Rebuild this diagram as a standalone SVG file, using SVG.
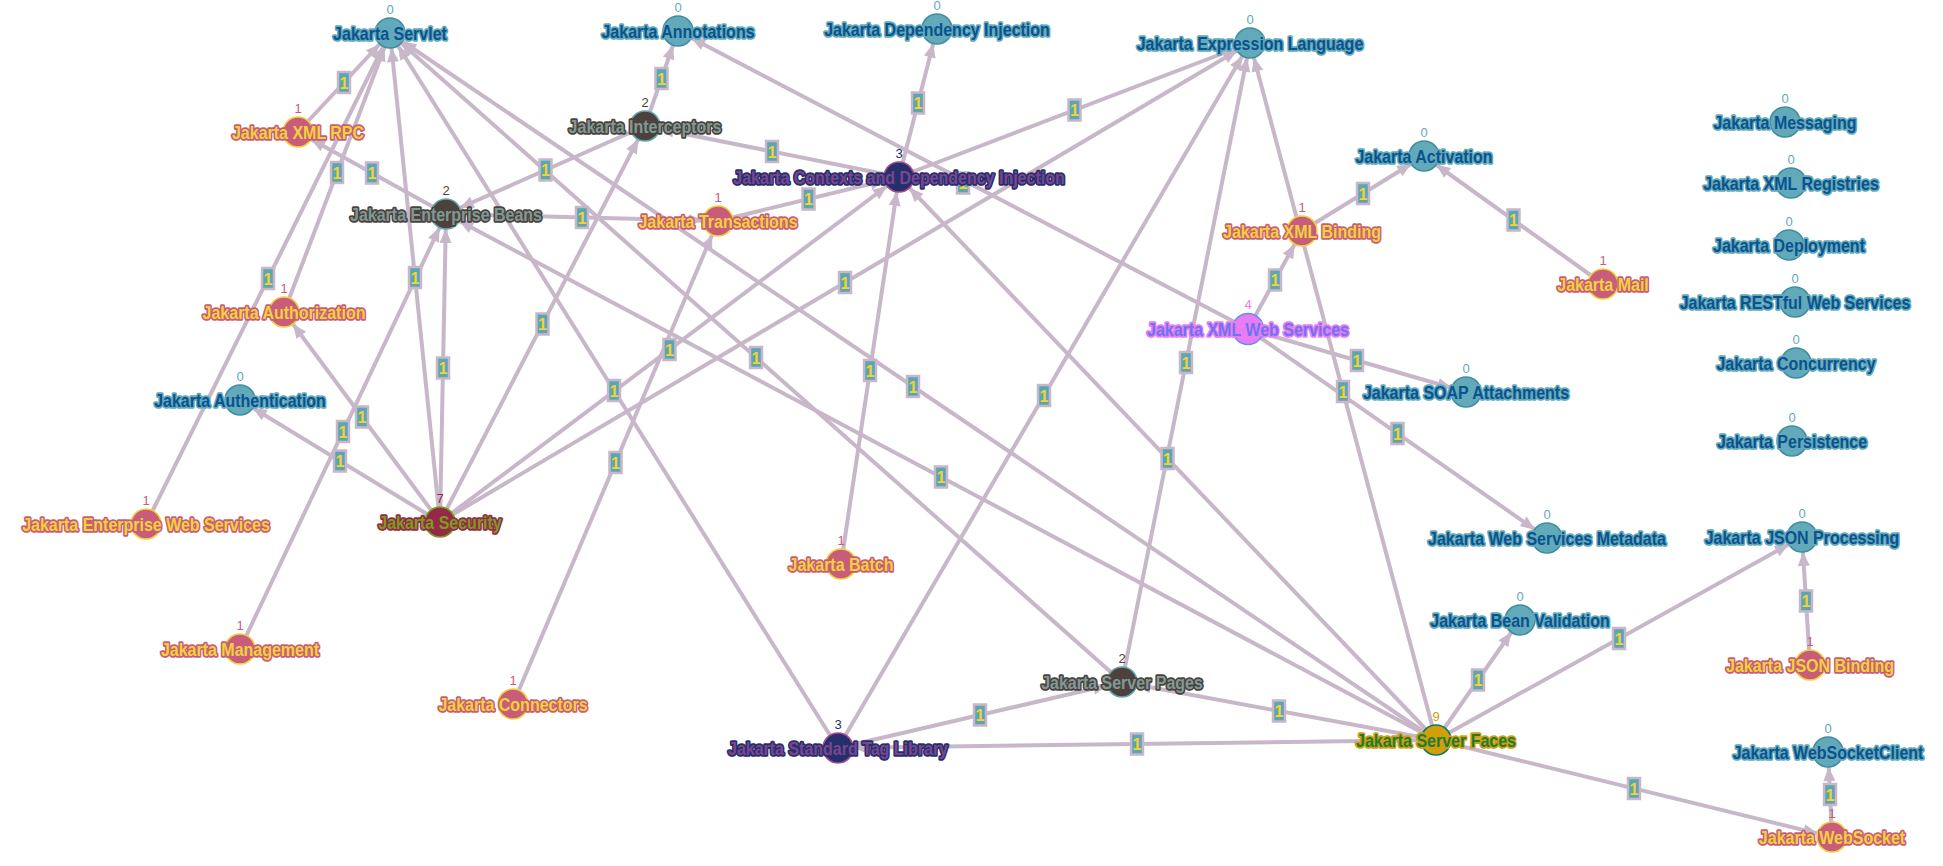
<svg xmlns="http://www.w3.org/2000/svg" width="1943" height="866" viewBox="0 0 1943 866">
<style>
.bg{fill:#ffffff}
.edges line{stroke:#c8b7c9;stroke-width:4;marker-end:url(#ah)}
.elab rect{fill:#5aa6b5;stroke:#c8b7c9;stroke-width:2.5}
.elab text{fill:#f5d231;font-family:"Liberation Sans",Arial,sans-serif;font-weight:bold;font-size:16px;text-anchor:middle}
.node circle{stroke-width:1.5}
.node .cnt{font-family:"Liberation Sans",Arial,sans-serif;font-size:13px;text-anchor:middle}
.node .lbl{font-family:"Liberation Sans",Arial,sans-serif;font-weight:bold;font-size:16px;text-anchor:middle;stroke-width:3;stroke-linejoin:round;paint-order:stroke}
.c0 circle{fill:#62aab9;stroke:#3f8ca2}.c0 .cnt{fill:#62aab9}.c0 .lbl{fill:#0b5290;stroke:#62aab9}
.c1 circle{fill:#c95c7a;stroke:#f0d23a}.c1 .cnt{fill:#c95c7a}.c1 .lbl{fill:#f2d23b;stroke:#c95c7a}
.c2 circle{fill:#4c413d;stroke:#5fa8b0}.c2 .cnt{fill:#4c413d}.c2 .lbl{fill:#7f9a95;stroke:#4c413d}
.c3 circle{fill:#252f6b;stroke:#a8488f}.c3 .cnt{fill:#252f6b}.c3 .lbl{fill:#7b4592;stroke:#252f6b}
.c4 circle{fill:#ea7cf3;stroke:#5f8ef5}.c4 .cnt{fill:#ea7cf3}.c4 .lbl{fill:#6f73f2;stroke:#ea7cf3}
.c7 circle{fill:#942a45;stroke:#7d9a21}.c7 .cnt{fill:#942a45}.c7 .lbl{fill:#7d9a21;stroke:#942a45}
.c9 circle{fill:#d39e0b;stroke:#0d7a5c}.c9 .cnt{fill:#d39e0b}.c9 .lbl{fill:#1b7d34;stroke:#d39e0b}
</style>
<defs>
<marker id="ah" markerUnits="userSpaceOnUse" orient="auto" markerWidth="14" markerHeight="12" viewBox="0 0 14 12" refX="29" refY="6" overflow="visible">
<path d="M0,0 L14,6 L0,12 z" fill="#c8b7c9"/>
</marker>
</defs>
<rect class="bg" x="0" y="0" width="1943" height="866"/>
<g id="connectors" class="edges">
<line x1="298" y1="132" x2="390" y2="33"/>
<line x1="446" y1="214" x2="298" y2="132"/>
<line x1="446" y1="214" x2="718" y2="221"/>
<line x1="645" y1="126" x2="446" y2="214"/>
<line x1="645" y1="126" x2="678" y2="31"/>
<line x1="899" y1="177" x2="645" y2="126"/>
<line x1="899" y1="177" x2="937" y2="29"/>
<line x1="899" y1="177" x2="1250" y2="43"/>
<line x1="718" y1="221" x2="899" y2="177"/>
<line x1="1248" y1="329" x2="678" y2="31"/>
<line x1="1248" y1="329" x2="1302" y2="231"/>
<line x1="1248" y1="329" x2="1466" y2="392"/>
<line x1="1248" y1="329" x2="1547" y2="538"/>
<line x1="1302" y1="231" x2="1424" y2="156"/>
<line x1="1603" y1="284" x2="1424" y2="156"/>
<line x1="284" y1="312" x2="390" y2="33"/>
<line x1="146" y1="524" x2="390" y2="33"/>
<line x1="240" y1="649" x2="446" y2="214"/>
<line x1="513" y1="704" x2="718" y2="221"/>
<line x1="841" y1="564" x2="899" y2="177"/>
<line x1="440" y1="522" x2="240" y2="400"/>
<line x1="440" y1="522" x2="284" y2="312"/>
<line x1="440" y1="522" x2="390" y2="33"/>
<line x1="440" y1="522" x2="446" y2="214"/>
<line x1="440" y1="522" x2="645" y2="126"/>
<line x1="440" y1="522" x2="899" y2="177"/>
<line x1="440" y1="522" x2="1250" y2="43"/>
<line x1="838" y1="748" x2="390" y2="33"/>
<line x1="838" y1="748" x2="1250" y2="43"/>
<line x1="838" y1="748" x2="1122" y2="682"/>
<line x1="1122" y1="682" x2="390" y2="33"/>
<line x1="1122" y1="682" x2="1250" y2="43"/>
<line x1="1436" y1="740" x2="390" y2="33"/>
<line x1="1436" y1="740" x2="446" y2="214"/>
<line x1="1436" y1="740" x2="899" y2="177"/>
<line x1="1436" y1="740" x2="1250" y2="43"/>
<line x1="1436" y1="740" x2="838" y2="748"/>
<line x1="1436" y1="740" x2="1122" y2="682"/>
<line x1="1436" y1="740" x2="1520" y2="620"/>
<line x1="1436" y1="740" x2="1802" y2="537"/>
<line x1="1436" y1="740" x2="1832" y2="837"/>
<line x1="1810" y1="665" x2="1802" y2="537"/>
<line x1="1832" y1="837" x2="1828" y2="752"/>
</g>
<g id="edge-labels" class="elab">
<g transform="translate(344,82.5)"><rect x="-6" y="-10.5" width="12" height="21"/><text y="6">1</text></g>
<g transform="translate(372,173)"><rect x="-6" y="-10.5" width="12" height="21"/><text y="6">1</text></g>
<g transform="translate(582,217.5)"><rect x="-6" y="-10.5" width="12" height="21"/><text y="6">1</text></g>
<g transform="translate(545.5,170)"><rect x="-6" y="-10.5" width="12" height="21"/><text y="6">1</text></g>
<g transform="translate(661.5,78.5)"><rect x="-6" y="-10.5" width="12" height="21"/><text y="6">1</text></g>
<g transform="translate(772,151.5)"><rect x="-6" y="-10.5" width="12" height="21"/><text y="6">1</text></g>
<g transform="translate(918,103)"><rect x="-6" y="-10.5" width="12" height="21"/><text y="6">1</text></g>
<g transform="translate(1074.5,110)"><rect x="-6" y="-10.5" width="12" height="21"/><text y="6">1</text></g>
<g transform="translate(808.5,199)"><rect x="-6" y="-10.5" width="12" height="21"/><text y="6">1</text></g>
<g transform="translate(963,183)"><rect x="-6" y="-10.5" width="12" height="21"/><text y="6">1</text></g>
<g transform="translate(1275,280)"><rect x="-6" y="-10.5" width="12" height="21"/><text y="6">1</text></g>
<g transform="translate(1357,360.5)"><rect x="-6" y="-10.5" width="12" height="21"/><text y="6">1</text></g>
<g transform="translate(1397.5,433.5)"><rect x="-6" y="-10.5" width="12" height="21"/><text y="6">1</text></g>
<g transform="translate(1363,193.5)"><rect x="-6" y="-10.5" width="12" height="21"/><text y="6">1</text></g>
<g transform="translate(1513.5,220)"><rect x="-6" y="-10.5" width="12" height="21"/><text y="6">1</text></g>
<g transform="translate(337,172.5)"><rect x="-6" y="-10.5" width="12" height="21"/><text y="6">1</text></g>
<g transform="translate(268,278.5)"><rect x="-6" y="-10.5" width="12" height="21"/><text y="6">1</text></g>
<g transform="translate(343,431.5)"><rect x="-6" y="-10.5" width="12" height="21"/><text y="6">1</text></g>
<g transform="translate(615.5,462.5)"><rect x="-6" y="-10.5" width="12" height="21"/><text y="6">1</text></g>
<g transform="translate(870,370.5)"><rect x="-6" y="-10.5" width="12" height="21"/><text y="6">1</text></g>
<g transform="translate(340,461)"><rect x="-6" y="-10.5" width="12" height="21"/><text y="6">1</text></g>
<g transform="translate(362,417)"><rect x="-6" y="-10.5" width="12" height="21"/><text y="6">1</text></g>
<g transform="translate(415,277.5)"><rect x="-6" y="-10.5" width="12" height="21"/><text y="6">1</text></g>
<g transform="translate(443,368)"><rect x="-6" y="-10.5" width="12" height="21"/><text y="6">1</text></g>
<g transform="translate(542.5,324)"><rect x="-6" y="-10.5" width="12" height="21"/><text y="6">1</text></g>
<g transform="translate(669.5,349.5)"><rect x="-6" y="-10.5" width="12" height="21"/><text y="6">1</text></g>
<g transform="translate(845,282.5)"><rect x="-6" y="-10.5" width="12" height="21"/><text y="6">1</text></g>
<g transform="translate(614,390.5)"><rect x="-6" y="-10.5" width="12" height="21"/><text y="6">1</text></g>
<g transform="translate(1044,395.5)"><rect x="-6" y="-10.5" width="12" height="21"/><text y="6">1</text></g>
<g transform="translate(980,715)"><rect x="-6" y="-10.5" width="12" height="21"/><text y="6">1</text></g>
<g transform="translate(756,357.5)"><rect x="-6" y="-10.5" width="12" height="21"/><text y="6">1</text></g>
<g transform="translate(1186,362.5)"><rect x="-6" y="-10.5" width="12" height="21"/><text y="6">1</text></g>
<g transform="translate(913,386.5)"><rect x="-6" y="-10.5" width="12" height="21"/><text y="6">1</text></g>
<g transform="translate(941,477)"><rect x="-6" y="-10.5" width="12" height="21"/><text y="6">1</text></g>
<g transform="translate(1167.5,458.5)"><rect x="-6" y="-10.5" width="12" height="21"/><text y="6">1</text></g>
<g transform="translate(1343,391.5)"><rect x="-6" y="-10.5" width="12" height="21"/><text y="6">1</text></g>
<g transform="translate(1137,744)"><rect x="-6" y="-10.5" width="12" height="21"/><text y="6">1</text></g>
<g transform="translate(1279,711)"><rect x="-6" y="-10.5" width="12" height="21"/><text y="6">1</text></g>
<g transform="translate(1478,680)"><rect x="-6" y="-10.5" width="12" height="21"/><text y="6">1</text></g>
<g transform="translate(1619,638.5)"><rect x="-6" y="-10.5" width="12" height="21"/><text y="6">1</text></g>
<g transform="translate(1634,788.5)"><rect x="-6" y="-10.5" width="12" height="21"/><text y="6">1</text></g>
<g transform="translate(1806,601)"><rect x="-6" y="-10.5" width="12" height="21"/><text y="6">1</text></g>
<g transform="translate(1830,794.5)"><rect x="-6" y="-10.5" width="12" height="21"/><text y="6">1</text></g>
</g>
<g id="nodes">
<g id="n-servlet" class="node c0" transform="translate(390,33)"><circle r="15"/><text class="cnt" y="-19">0</text><text class="lbl" transform="scale(1,1.2)" y="5.8">Jakarta Servlet</text></g>
<g id="n-xmlrpc" class="node c1" transform="translate(298,132)"><circle r="15"/><text class="cnt" y="-19">1</text><text class="lbl" transform="scale(1,1.2)" y="5.8">Jakarta XML RPC</text></g>
<g id="n-eb" class="node c2" transform="translate(446,214)"><circle r="15"/><text class="cnt" y="-19">2</text><text class="lbl" transform="scale(1,1.2)" y="5.8">Jakarta Enterprise Beans</text></g>
<g id="n-interceptors" class="node c2" transform="translate(645,126)"><circle r="15"/><text class="cnt" y="-19">2</text><text class="lbl" transform="scale(1,1.2)" y="5.8">Jakarta Interceptors</text></g>
<g id="n-annotations" class="node c0" transform="translate(678,31)"><circle r="15"/><text class="cnt" y="-19">0</text><text class="lbl" transform="scale(1,1.2)" y="5.8">Jakarta Annotations</text></g>
<g id="n-di" class="node c0" transform="translate(937,29)"><circle r="15"/><text class="cnt" y="-19">0</text><text class="lbl" transform="scale(1,1.2)" y="5.8">Jakarta Dependency Injection</text></g>
<g id="n-cdi" class="node c3" transform="translate(899,177)"><circle r="15"/><text class="cnt" y="-19">3</text><text class="lbl" transform="scale(1,1.2)" y="5.8">Jakarta Contexts and Dependency Injection</text></g>
<g id="n-transactions" class="node c1" transform="translate(718,221)"><circle r="15"/><text class="cnt" y="-19">1</text><text class="lbl" transform="scale(1,1.2)" y="5.8">Jakarta Transactions</text></g>
<g id="n-el" class="node c0" transform="translate(1250,43)"><circle r="15"/><text class="cnt" y="-19">0</text><text class="lbl" transform="scale(1,1.2)" y="5.8">Jakarta Expression Language</text></g>
<g id="n-activation" class="node c0" transform="translate(1424,156)"><circle r="15"/><text class="cnt" y="-19">0</text><text class="lbl" transform="scale(1,1.2)" y="5.8">Jakarta Activation</text></g>
<g id="n-xmlbinding" class="node c1" transform="translate(1302,231)"><circle r="15"/><text class="cnt" y="-19">1</text><text class="lbl" transform="scale(1,1.2)" y="5.8">Jakarta XML Binding</text></g>
<g id="n-mail" class="node c1" transform="translate(1603,284)"><circle r="15"/><text class="cnt" y="-19">1</text><text class="lbl" transform="scale(1,1.2)" y="5.8">Jakarta Mail</text></g>
<g id="n-xmlws" class="node c4" transform="translate(1248,329)"><circle r="15.5"/><text class="cnt" y="-20">4</text><text class="lbl" transform="scale(1,1.2)" y="5.8">Jakarta XML Web Services</text></g>
<g id="n-soap" class="node c0" transform="translate(1466,392)"><circle r="15"/><text class="cnt" y="-19">0</text><text class="lbl" transform="scale(1,1.2)" y="5.8">Jakarta SOAP Attachments</text></g>
<g id="n-wsm" class="node c0" transform="translate(1547,538)"><circle r="15"/><text class="cnt" y="-19">0</text><text class="lbl" transform="scale(1,1.2)" y="5.8">Jakarta Web Services Metadata</text></g>
<g id="n-bv" class="node c0" transform="translate(1520,620)"><circle r="15"/><text class="cnt" y="-19">0</text><text class="lbl" transform="scale(1,1.2)" y="5.8">Jakarta Bean Validation</text></g>
<g id="n-jsonp" class="node c0" transform="translate(1802,537)"><circle r="15"/><text class="cnt" y="-19">0</text><text class="lbl" transform="scale(1,1.2)" y="5.8">Jakarta JSON Processing</text></g>
<g id="n-jsonb" class="node c1" transform="translate(1810,665)"><circle r="15"/><text class="cnt" y="-19">1</text><text class="lbl" transform="scale(1,1.2)" y="5.8">Jakarta JSON Binding</text></g>
<g id="n-wsc" class="node c0" transform="translate(1828,752)"><circle r="15"/><text class="cnt" y="-19">0</text><text class="lbl" transform="scale(1,1.2)" y="5.8">Jakarta WebSocketClient</text></g>
<g id="n-websocket" class="node c1" transform="translate(1832,837)"><circle r="15"/><text class="cnt" y="-19">1</text><text class="lbl" transform="scale(1,1.2)" y="5.8">Jakarta WebSocket</text></g>
<g id="n-faces" class="node c9" transform="translate(1436,740)"><circle r="15"/><text class="cnt" y="-19">9</text><text class="lbl" transform="scale(1,1.2)" y="5.8">Jakarta Server Faces</text></g>
<g id="n-pages" class="node c2" transform="translate(1122,682)"><circle r="15"/><text class="cnt" y="-19">2</text><text class="lbl" transform="scale(1,1.2)" y="5.8">Jakarta Server Pages</text></g>
<g id="n-jstl" class="node c3" transform="translate(838,748)"><circle r="15"/><text class="cnt" y="-19">3</text><text class="lbl" transform="scale(1,1.2)" y="5.8">Jakarta Standard Tag Library</text></g>
<g id="n-batch" class="node c1" transform="translate(841,564)"><circle r="15"/><text class="cnt" y="-19">1</text><text class="lbl" transform="scale(1,1.2)" y="5.8">Jakarta Batch</text></g>
<g id="n-security" class="node c7" transform="translate(440,522)"><circle r="15"/><text class="cnt" y="-19">7</text><text class="lbl" transform="scale(1,1.2)" y="5.8">Jakarta Security</text></g>
<g id="n-authentication" class="node c0" transform="translate(240,400)"><circle r="15"/><text class="cnt" y="-19">0</text><text class="lbl" transform="scale(1,1.2)" y="5.8">Jakarta Authentication</text></g>
<g id="n-authorization" class="node c1" transform="translate(284,312)"><circle r="15"/><text class="cnt" y="-19">1</text><text class="lbl" transform="scale(1,1.2)" y="5.8">Jakarta Authorization</text></g>
<g id="n-ews" class="node c1" transform="translate(146,524)"><circle r="15"/><text class="cnt" y="-19">1</text><text class="lbl" transform="scale(1,1.2)" y="5.8">Jakarta Enterprise Web Services</text></g>
<g id="n-management" class="node c1" transform="translate(240,649)"><circle r="15"/><text class="cnt" y="-19">1</text><text class="lbl" transform="scale(1,1.2)" y="5.8">Jakarta Management</text></g>
<g id="n-connectors" class="node c1" transform="translate(513,704)"><circle r="15"/><text class="cnt" y="-19">1</text><text class="lbl" transform="scale(1,1.2)" y="5.8">Jakarta Connectors</text></g>
<g id="n-messaging" class="node c0" transform="translate(1785,122)"><circle r="15"/><text class="cnt" y="-19">0</text><text class="lbl" transform="scale(1,1.2)" y="5.8">Jakarta Messaging</text></g>
<g id="n-xmlreg" class="node c0" transform="translate(1791,183)"><circle r="15"/><text class="cnt" y="-19">0</text><text class="lbl" transform="scale(1,1.2)" y="5.8">Jakarta XML Registries</text></g>
<g id="n-deployment" class="node c0" transform="translate(1789,245)"><circle r="15"/><text class="cnt" y="-19">0</text><text class="lbl" transform="scale(1,1.2)" y="5.8">Jakarta Deployment</text></g>
<g id="n-restful" class="node c0" transform="translate(1795,302)"><circle r="15"/><text class="cnt" y="-19">0</text><text class="lbl" transform="scale(1,1.2)" y="5.8">Jakarta RESTful Web Services</text></g>
<g id="n-concurrency" class="node c0" transform="translate(1796,363)"><circle r="15"/><text class="cnt" y="-19">0</text><text class="lbl" transform="scale(1,1.2)" y="5.8">Jakarta Concurrency</text></g>
<g id="n-persistence" class="node c0" transform="translate(1792,441)"><circle r="15"/><text class="cnt" y="-19">0</text><text class="lbl" transform="scale(1,1.2)" y="5.8">Jakarta Persistence</text></g>
</g>
</svg>
